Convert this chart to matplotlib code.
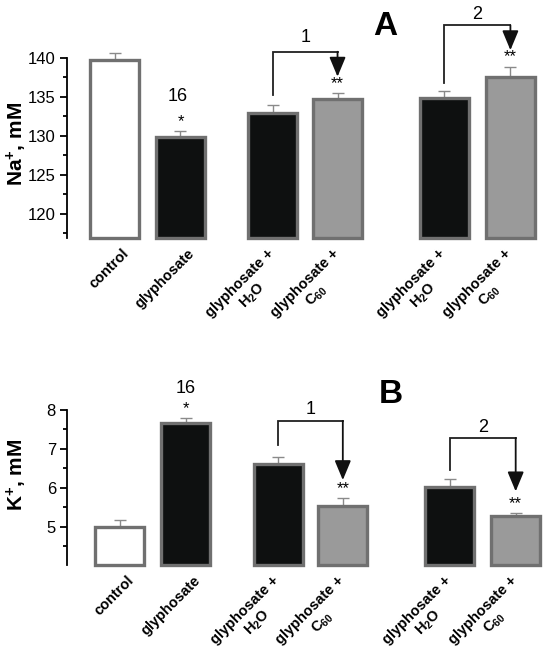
import matplotlib
matplotlib.use('Agg')
import matplotlib.pyplot as plt
import matplotlib.transforms as mtransforms
import numpy as np

plt.rcParams['font.family'] = ['Liberation Sans', 'DejaVu Sans']
plt.rcParams['mathtext.default'] = 'regular'

# bar groups
labels = ['control', 'glyphosate', 'glyphosate +\nH$_2$O', 'glyphosate +\nC$_{60}$',
          'glyphosate +\nH$_2$O', 'glyphosate +\nC$_{60}$']
positions = [0, 1, 2.4, 3.38, 5, 6]
fills = ['white', '#0e1010', '#0e1010', '#9a9a9a', '#0e1010', '#9a9a9a']

# panel A: Na+
na_values = [139.7, 129.8, 133.0, 134.7, 134.9, 137.6]
na_errors = [1.0, 0.8, 1.0, 0.8, 0.8, 1.3]
na_stars = ['', '*', '', '**', '', '**']

# panel B: K+
k_values = [5.00, 7.66, 6.61, 5.54, 6.03, 5.28]
k_errors = [0.17, 0.13, 0.19, 0.19, 0.21, 0.08]
k_stars = ['', '*', '', '**', '', '**']

EDGE = '#707070'
ERR = '#8a8a8a'


def draw_panel(ax, values, errors, stars, base, top, major, minor, ylabel, label_y):
    ax.bar(positions, np.array(values) - base, bottom=base, width=0.74,
           color=fills, edgecolor=EDGE, linewidth=2.4, clip_on=False, zorder=2)
    ax.errorbar(positions, values, yerr=[np.zeros(len(values)), errors], fmt='none',
                ecolor=ERR, elinewidth=1, capsize=4, capthick=1, zorder=1)
    span = top - base
    for x, v, e, s in zip(positions, values, errors, stars):
        if s:
            ax.text(x, v + e + 0.01 * span, s, ha='center', va='bottom', fontsize=12)

    ax.set_ylim(base, top)
    ax.spines['left'].set_bounds(base, major[-1])
    for side in ['top', 'right', 'bottom']:
        ax.spines[side].set_visible(False)
    ax.spines['left'].set_linewidth(1.3)
    ax.set_yticks(major)
    ax.set_yticks(minor, minor=True)
    ax.tick_params(axis='y', which='major', length=5, width=1.3, labelsize=12, pad=3)
    ax.tick_params(axis='y', which='minor', length=3, width=1.3)
    ax.set_ylabel(ylabel, fontsize=15, fontweight='bold')
    ax.yaxis.set_label_coords(-0.078, label_y)

    ax.set_xticks(positions)
    ax.tick_params(axis='x', length=0, pad=6)
    offset = mtransforms.ScaledTranslation(17 / 100, 0, ax.figure.dpi_scale_trans)
    ax.set_xticklabels(labels, rotation=45, ha='right', va='top', fontsize=10.5,
                       fontweight='bold', multialignment='center')
    for lbl in ax.get_xticklabels():
        lbl.set_transform(lbl.get_transform() + offset)


def bracket(ax, x0, x1, y_low, y_bar, y_tip, text, text_y):
    ax.plot([x0, x0, x1], [y_low, y_bar, y_bar], color='#202020', lw=1.3,
            clip_on=False, solid_joinstyle='miter')
    ax.annotate('', xy=(x1, y_tip), xytext=(x1, y_bar),
                arrowprops=dict(arrowstyle='-|>,head_length=0.6,head_width=0.25',
                                mutation_scale=20, color='#111111', lw=1.3,
                                shrinkA=0, shrinkB=0),
                annotation_clip=False)
    ax.text((x0 + x1) / 2, text_y, text, ha='center', va='center', fontsize=13)


fig = plt.figure(figsize=(5.5, 6.51), dpi=100)
ax_a = fig.add_axes([67 / 550, 1 - 238 / 651, 483 / 550, 219 / 651])
ax_b = fig.add_axes([67 / 550, 1 - 565 / 651, 483 / 550, 194 / 651])

draw_panel(ax_a, na_values, na_errors, na_stars, 116.9, 145.0,
           [120, 125, 130, 135, 140], np.arange(117.5, 140, 2.5),
           'Na$^{+}$, mM', 0.43)
ax_a.set_xlim(-0.72, 6.6)
ax_a.text(positions[1] - 0.04, 135.1, '16', ha='center', va='center', fontsize=13)
bracket(ax_a, positions[2], positions[3], 135.3, 140.8, 137.6, '1', 142.6)
bracket(ax_a, positions[4], positions[5], 136.8, 144.2, 141.0, '2', 145.6)
ax_a.text(4.1, 144.0, 'A', ha='center', va='center', fontsize=24, fontweight='bold')

draw_panel(ax_b, k_values, k_errors, k_stars, 4.02, 9.0,
           [5, 6, 7, 8], np.arange(4.5, 8.0, 0.5),
           'K$^{+}$, mM', 0.464)
ax_b.set_xlim(-0.8, 6.52)
ax_b.text(positions[1], 8.54, '16', ha='center', va='center', fontsize=13)
bracket(ax_b, positions[2], positions[3], 7.1, 7.72, 6.2, '1', 8.0)
bracket(ax_b, positions[4], positions[5], 6.46, 7.28, 5.91, '2', 7.54)
ax_b.text(4.1, 8.39, 'B', ha='center', va='center', fontsize=24, fontweight='bold')

fig.savefig('out.png', dpi=100)
